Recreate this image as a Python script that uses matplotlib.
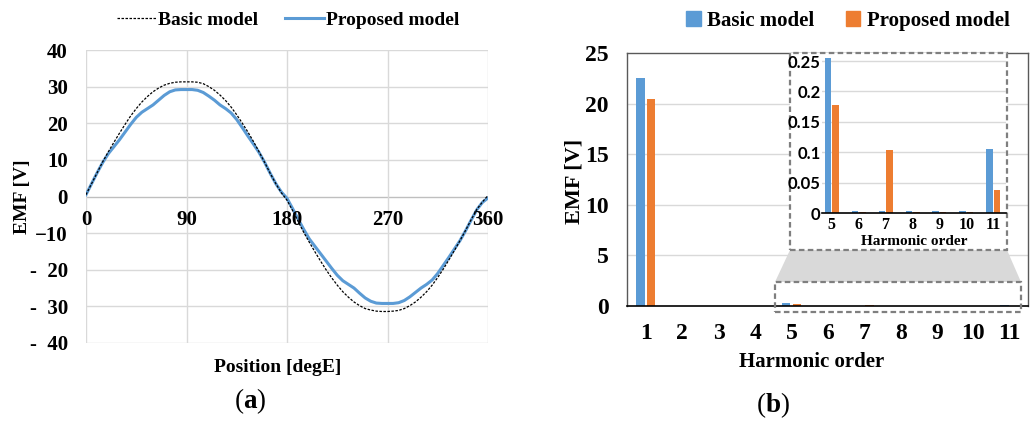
import matplotlib
matplotlib.use("Agg")
import matplotlib.pyplot as plt
from matplotlib.lines import Line2D
from matplotlib.patches import Patch, Rectangle, Polygon

# ---------------- data ----------------
position = [0, 5, 10, 15, 20, 25, 30, 35, 40, 45, 50, 55, 60, 65, 70, 75, 80, 85,
            90, 95, 100, 105, 110, 115, 120, 125, 130, 135, 140, 145, 150, 155, 160,
            165, 170, 175, 180, 185, 190, 195, 200, 205, 210, 215, 220, 225, 230,
            235, 240, 245, 250, 255, 260, 265, 270, 275, 280, 285, 290, 295, 300,
            305, 310, 315, 320, 325, 330, 335, 340, 345, 350, 355, 360]
basic_emf = [0.5, 3.5, 6.5, 9.5, 12.2, 14.8, 17.3, 19.7, 22.0, 24.0, 25.8, 27.3, 28.6,
             29.6, 30.4, 30.9, 31.2, 31.3, 31.3, 31.3, 31.2, 30.8, 30.0, 29.0, 27.7,
             26.2, 24.4, 22.3, 20.0, 17.6, 15.0, 12.2, 9.3, 6.3, 3.5, 1.0, -1.0,
             -3.8, -6.8, -9.8, -12.5, -15.1, -17.6, -20.0, -22.2, -24.2, -26.0,
             -27.5, -28.8, -29.8, -30.6, -31.0, -31.3, -31.4, -31.4, -31.3, -31.1,
             -30.6, -29.8, -28.8, -27.5, -26.0, -24.2, -22.1, -19.8, -17.3, -14.7,
             -12.0, -9.2, -6.3, -3.5, -1.5, 0.3]
proposed_emf = [0.5, 3.5, 6.5, 9.3, 11.7, 13.6, 15.5, 17.6, 19.7, 21.6, 23.0, 24.0,
                25.0, 26.3, 27.6, 28.6, 29.1, 29.2, 29.2, 29.2, 29.0, 28.4, 27.4,
                26.3, 25.0, 24.0, 22.8, 21.0, 18.8, 16.5, 14.3, 12.0, 9.3, 6.3, 3.5,
                1.2, -0.5, -3.3, -6.2, -9.0, -11.6, -13.6, -15.6, -17.6, -19.6,
                -21.5, -23.0, -24.0, -25.0, -26.4, -27.7, -28.6, -29.1, -29.2, -29.2,
                -29.2, -29.0, -28.4, -27.4, -26.2, -25.0, -24.0, -22.8, -21.0, -18.8,
                -16.6, -14.3, -12.0, -9.3, -6.4, -3.6, -1.6, -0.4]

harmonic_order = [1, 2, 3, 4, 5, 6, 7, 8, 9, 10, 11]
basic_harm = [22.5, 0.0, 0.0, 0.0, 0.255, 0.004, 0.003, 0.004, 0.004, 0.004, 0.105]
proposed_harm = [20.5, 0.0, 0.0, 0.0, 0.178, 0.002, 0.103, 0.002, 0.002, 0.002, 0.038]

left_yticks = [-40, -30, -20, -10, 0, 10, 20, 30, 40]
left_yticklabels = ['-  40', '-  30', '-  20', '\u221210', '0', '10', '20', '30', '40']
left_xticks = [0, 90, 180, 270, 360]
right_yticks = [0, 5, 10, 15, 20, 25]
inset_yticks = [0, 0.05, 0.1, 0.15, 0.2, 0.25]
inset_yticklabels = ['0', '0.05', '0.1', '0.15', '0.2', '0.25']

# ---------------- style ----------------
SERIF = 'Liberation Serif'
plt.rcParams['font.family'] = SERIF
plt.rcParams['mathtext.fontset'] = 'custom'
plt.rcParams['mathtext.rm'] = 'Liberation Serif'
plt.rcParams['mathtext.bf'] = 'Liberation Serif:bold'
BLUE = '#5b9bd5'
ORANGE = '#ed7d31'
GRID = '#d9d9d9'

W, H = 1034, 422
fig = plt.figure(figsize=(W / 100, H / 100), dpi=100)


def fx(px):
    return px / W


def fy(py):
    return 1 - py / H


# ---------------- left panel ----------------
axL = fig.add_axes([fx(86), fy(343), fx(488 - 86), (343 - 50) / H])
axL.set_xlim(0, 360)
axL.set_ylim(-40, 40)
for s in axL.spines.values():
    s.set_visible(False)
for v in left_yticks:
    axL.axhline(v, color='#bfbfbf' if v == 0 else GRID, lw=1.0, zorder=0)
for v in left_xticks:
    axL.axvline(v, color=GRID, lw=1.0, zorder=0)
axL.plot(position, basic_emf, color='black', lw=0.9, ls=(0, (2.0, 1.2)), zorder=3)
axL.plot(position, proposed_emf, color=BLUE, lw=2.2, zorder=2)
axL.set_xticks([])
axL.set_yticks(left_yticks)
axL.set_yticklabels(left_yticklabels, fontsize=15, fontweight='bold')
axL.tick_params(axis='y', length=0, pad=13)
for v in left_xticks:
    axL.text(v, -6.5, str(v), ha='center', va='center', fontsize=15,
             fontweight='bold', zorder=5)
fig.text(fx(278), fy(367), 'Position [degE]', ha='center', va='center',
         fontsize=14, fontweight='bold')
fig.text(fx(23), fy(197), 'EMF [V]', ha='center', va='center', rotation=90,
         fontsize=14, fontweight='bold')
fig.text(fx(250), fy(401), r'$\mathrm{(}\mathbf{a}\mathrm{)}$', ha='center',
         va='center', fontsize=19.5)
handlesL = [Line2D([], [], color='black', lw=0.9, ls=(0, (2.0, 1.2))),
            Line2D([], [], color=BLUE, lw=2.2)]
fig.legend(handlesL, ['Basic model', 'Proposed model'], loc='center',
           bbox_to_anchor=(fx(288), fy(20)), ncol=2, frameon=False,
           prop={'family': SERIF, 'weight': 'bold', 'size': 14},
           handlelength=2.0, handletextpad=0.1, columnspacing=1.4)

# ---------------- right panel ----------------
axR = fig.add_axes([fx(627), fy(306), fx(1028 - 627), (306 - 53) / H])
axR.set_xlim(0.48, 11.5)
axR.set_ylim(0, 25)
bw = 0.23
off = 0.145
axR.bar([h - off for h in harmonic_order], basic_harm, width=bw, color=BLUE, zorder=2)
axR.bar([h + off for h in harmonic_order], proposed_harm, width=bw, color=ORANGE, zorder=2)
for v in right_yticks[1:-1]:
    axR.axhline(v, color=GRID, lw=1.0, zorder=0)
for k in ['top', 'left', 'right']:
    axR.spines[k].set_color('#595959')
    axR.spines[k].set_linewidth(1.0)
axR.spines['bottom'].set_color('black')
axR.spines['bottom'].set_linewidth(1.2)
axR.set_xticks(harmonic_order)
axR.set_xticklabels([str(h) for h in harmonic_order], fontsize=17, fontweight='bold')
axR.set_yticks(right_yticks)
axR.set_yticklabels([str(v) for v in right_yticks], fontsize=17, fontweight='bold')
axR.tick_params(axis='x', length=0, pad=12)
axR.tick_params(axis='y', length=0, pad=13)
fig.text(fx(812), fy(362), 'Harmonic order', ha='center', va='center',
         fontsize=15, fontweight='bold')
fig.text(fx(575), fy(181), 'EMF [V]', ha='center', va='center', rotation=90,
         fontsize=16, fontweight='bold')
fig.text(fx(773), fy(405), r'$\mathrm{(}\mathbf{b}\mathrm{)}$', ha='center',
         va='center', fontsize=19.5)
handlesR = [Patch(color=BLUE), Patch(color=ORANGE)]
fig.legend(handlesR, ['Basic model', 'Proposed model'], loc='center',
           bbox_to_anchor=(fx(848), fy(21)), ncol=2, frameon=False,
           prop={'family': SERIF, 'weight': 'bold', 'size': 15},
           handlelength=0.7, handleheight=0.7, handletextpad=0.3, columnspacing=1.5)

# zoom decoration (figure coords)
dash_kw = dict(fill=False, ls=(0, (2.5, 1.5)), lw=1.6, edgecolor='#7f7f7f',
               transform=fig.transFigure)
poly = Polygon([[fx(790), fy(250)], [fx(1007), fy(250)], [fx(1021), fy(282)],
                [fx(775), fy(282)]], closed=True, facecolor='#d9d9d9',
               edgecolor='none', transform=fig.transFigure, zorder=1)
fig.patches.append(poly)
bg = Rectangle((fx(790), fy(250)), fx(1007 - 790), (250 - 53) / H,
               facecolor='white', edgecolor='none', transform=fig.transFigure,
               zorder=1)
fig.patches.append(bg)
fig.patches.append(Rectangle((fx(790), fy(250)), fx(1007 - 790), (250 - 53) / H,
                             zorder=5, **dash_kw))
fig.patches.append(Rectangle((fx(775), fy(312)), fx(1021 - 775), (312 - 282) / H,
                             zorder=5, **dash_kw))

# inset
axI = fig.add_axes([fx(822), fy(213), fx(1006 - 822), (213 - 55) / H])
axI.set_zorder(6)
axI.patch.set_alpha(0)
axI.set_xlim(4.64, 11.47)
axI.set_ylim(0, 0.26)
ins_h = harmonic_order[4:]
ibw = 0.24
ioff = 0.14
axI.bar([h - ioff for h in ins_h], basic_harm[4:], width=ibw, color=BLUE, zorder=2)
axI.bar([h + ioff for h in ins_h], proposed_harm[4:], width=ibw, color=ORANGE, zorder=2)
for v in inset_yticks[1:]:
    axI.axhline(v, color=GRID, lw=1.0, zorder=0)
for k in ['top', 'left', 'right']:
    axI.spines[k].set_visible(False)
axI.spines['bottom'].set_color('black')
axI.spines['bottom'].set_linewidth(1.2)
axI.set_xticks(ins_h)
axI.set_xticklabels([str(h) for h in ins_h], fontsize=11.5, fontweight='bold')
axI.set_yticks(inset_yticks)
axI.set_yticklabels(inset_yticklabels, fontsize=12, fontweight='bold',
                    family='Lato')
axI.tick_params(axis='x', length=0, pad=3)
axI.tick_params(axis='y', length=0, pad=1)
axI.set_xlabel('Harmonic order', fontsize=11, fontweight='bold', labelpad=1)

fig.savefig('out.png', dpi=100)
